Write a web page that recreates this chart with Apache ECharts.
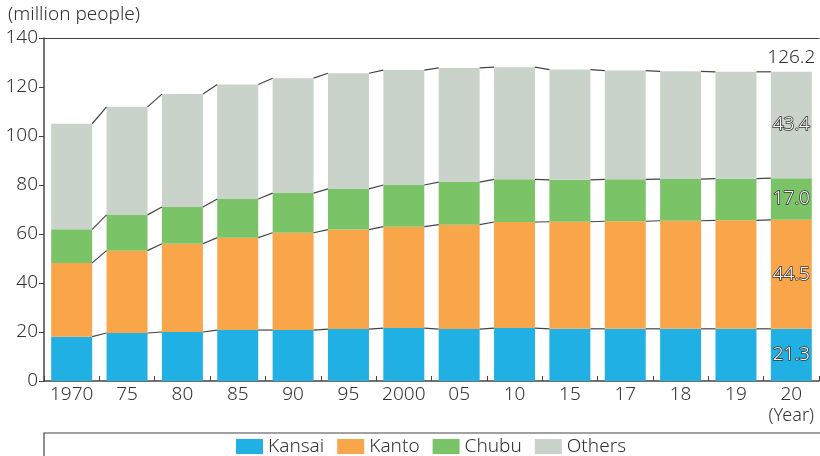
<!DOCTYPE html>
<html>
<head>
<meta charset="utf-8">
<script src="https://cdn.jsdelivr.net/npm/echarts@6/dist/echarts.min.js"></script>
<style>
  html, body { margin: 0; padding: 0; background: #fff; }
  #chart { width: 820px; height: 456px; }
</style>
</head>
<body>
<div id="chart"></div>
<script>
// Population by region, million people
const years  = ['1970', '75', '80', '85', '90', '95', '2000', '05', '10', '15', '17', '18', '19', '20'];
const kansai = [18.1, 19.6, 20.0, 20.8, 20.8, 21.2, 21.6, 21.2, 21.6, 21.3, 21.3, 21.3, 21.3, 21.3];
const kanto  = [30.1, 33.6, 36.0, 37.7, 39.7, 40.6, 41.4, 42.6, 43.3, 43.7, 43.9, 44.1, 44.3, 44.5];
const chubu  = [13.7, 14.6, 15.0, 15.8, 16.2, 16.6, 17.0, 17.4, 17.4, 17.1, 17.1, 17.0, 17.0, 17.0];
const others = [43.1, 44.1, 46.1, 46.7, 46.9, 47.2, 46.9, 46.6, 45.8, 45.0, 44.4, 44.0, 43.6, 43.4];
const regionNames = ['Kansai', 'Kanto', 'Chubu', 'Others'];
const regionColors = ['#20b0e3', '#f9a54a', '#7ac367', '#c9d3c9'];

const FONT = '"Noto Sans", sans-serif';
const WEIGHT = 300;
const TEXT = '#333';
const BAR_RATIO = 0.74;
const last = years.length - 1;

const regions = [kansai, kanto, chubu, others];

// Cumulative tops of each stacked segment
const tops = [];
regions.forEach((arr, k) => {
  tops.push(arr.map((v, i) => +((k ? tops[k - 1][i] : 0) + v).toFixed(1)));
});
const totals = tops[tops.length - 1];

// Connector segments: [index, top at index, top at next index]
const connectorData = [];
tops.forEach(row => {
  for (let i = 0; i < row.length - 1; i++) connectorData.push([i, row[i], row[i + 1]]);
});

const valueLabel = {
  show: true,
  position: 'inside',
  color: '#fff',
  fontFamily: FONT,
  fontWeight: WEIGHT,
  fontSize: 19,
  textBorderColor: '#333',
  textBorderWidth: 1.5
};

const barSeries = regions.map((arr, k) => ({
  name: regionNames[k],
  type: 'bar',
  stack: 'pop',
  barWidth: (BAR_RATIO * 100) + '%',
  itemStyle: { color: regionColors[k] },
  emphasis: { disabled: true },
  data: arr.map((v, i) => i === last
    ? { value: v, label: Object.assign({}, valueLabel, { formatter: v.toFixed(1) }) }
    : v)
}));

// Total above the last bar
barSeries.push({
  name: 'Total',
  type: 'bar',
  stack: 'pop',
  barWidth: (BAR_RATIO * 100) + '%',
  itemStyle: { color: 'transparent' },
  data: totals.map((t, i) => i === last
    ? { value: 0, label: { show: true, position: 'top', distance: 5, formatter: t.toFixed(1),
        color: TEXT, fontFamily: FONT, fontWeight: WEIGHT, fontSize: 19 } }
    : 0)
});

const connectors = {
  type: 'custom',
  silent: true,
  z: 5,
  data: connectorData,
  renderItem: function (params, api) {
    const i = api.value(0);
    const half = api.size([1, 0])[0] * BAR_RATIO / 2;
    const p1 = api.coord([i, api.value(1)]);
    const p2 = api.coord([i + 1, api.value(2)]);
    return {
      type: 'line',
      shape: { x1: p1[0] + half, y1: p1[1], x2: p2[0] - half, y2: p2[1] },
      style: { stroke: '#444', lineWidth: 1.2 }
    };
  }
};

const chart = echarts.init(document.getElementById('chart'), null, { renderer: 'canvas' });
chart.setOption({
  animation: false,
  textStyle: { fontFamily: FONT, fontWeight: WEIGHT },
  grid: { left: 44, right: 1, top: 38, bottom: 75, containLabel: false },
  legend: {
    data: regionNames,
    left: 236,
    top: 437,
    padding: 0,
    itemWidth: 27,
    itemHeight: 15,
    itemGap: 13,
    icon: 'rect',
    textStyle: { color: TEXT, fontSize: 19, fontFamily: FONT, fontWeight: WEIGHT }
  },
  xAxis: [{
    type: 'category',
    data: years,
    axisLine: { lineStyle: { color: '#444', width: 1.5 } },
    axisTick: { show: true, inside: true, length: 5, interval: 0, alignWithLabel: false, lineStyle: { color: '#444' } },
    axisLabel: { interval: 0, hideOverlap: false, color: TEXT, fontSize: 19, fontFamily: FONT, fontWeight: WEIGHT, margin: 4 }
  }, {
    type: 'category',
    data: years,
    position: 'top',
    axisLine: { show: true, lineStyle: { color: '#444', width: 1.2 } },
    axisTick: { show: false },
    axisLabel: { show: false }
  }],
  yAxis: {
    type: 'value',
    min: 0,
    max: 140,
    interval: 20,
    axisLine: { show: true, lineStyle: { color: '#444', width: 1.5 } },
    axisTick: { show: true, length: 5, lineStyle: { color: '#444' } },
    axisLabel: { color: TEXT, fontSize: 19, fontFamily: FONT, fontWeight: WEIGHT, margin: 6 },
    splitLine: { show: false }
  },
  graphic: [
    { type: 'text', left: 8, top: 5,
      style: { text: '(million people)', fill: TEXT, font: WEIGHT + ' 19px ' + FONT } },
    { type: 'text', right: 6, top: 407,
      style: { text: '(Year)', fill: TEXT, font: WEIGHT + ' 18px ' + FONT } },
    { type: 'rect', shape: { x: 44, y: 433, width: 800, height: 40 },
      style: { fill: 'none', stroke: '#444', lineWidth: 1.2 }, z: -1 }
  ],
  series: barSeries.concat([connectors])
});
</script>
</body>
</html>
